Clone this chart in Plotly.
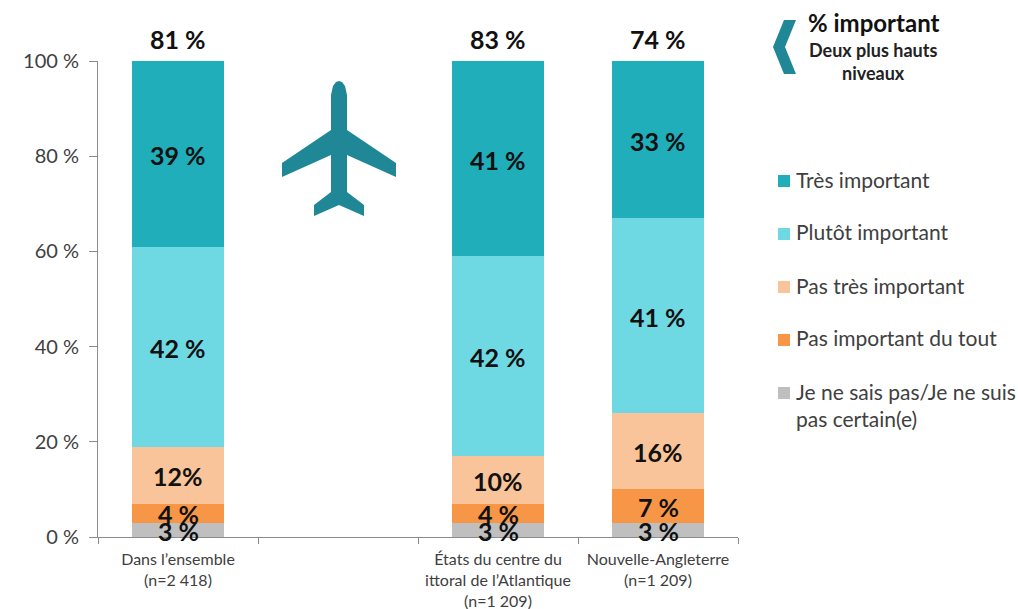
import plotly.graph_objects as go

W, H = 1018, 609
L, R, T, B = 98, 738, 61, 537

FONT = "Lato"
TEXT = "#111111"
GREY_TEXT = "#404040"

categories = [
    "Dans l’ensemble<br>(n=2 418)",
    " ",
    "États du centre du<br>ittoral de l’Atlantique<br>(n=1 209)",
    "Nouvelle-Angleterre<br>(n=1 209)",
]
totals = ["81 %", None, "83 %", "74 %"]

# bottom of the stack first
series_names = [
    "Je ne sais pas/Je ne suis<br>pas certain(e)",
    "Pas important du tout",
    "Pas très important",
    "Plutôt important",
    "Très important",
]
series_values = [
    [3, None, 3, 3],
    [4, None, 4, 7],
    [12, None, 10, 16],
    [42, None, 42, 41],
    [39, None, 41, 33],
]
series_labels = [
    ["3 %", None, "3 %", "3 %"],
    ["4 %", None, "4 %", "7 %"],
    ["12%", None, "10%", "16%"],
    ["42 %", None, "42 %", "41 %"],
    ["39 %", None, "41 %", "33 %"],
]
series_colors = ["#BFBFBF", "#F79646", "#F9C499", "#6FD9E3", "#20AEBB"]

y_ticks = [0, 20, 40, 60, 80, 100]
y_tick_labels = ["0 %", "20 %", "40 %", "60 %", "80 %", "100 %"]


def px(x):
    return (x - L) / (R - L)


def py(y):
    return (B - y) / (B - T)


def path(points):
    cmds = [f"{'M' if i == 0 else 'L'} {px(x):.5f} {py(y):.5f}" for i, (x, y) in enumerate(points)]
    return " ".join(cmds) + " Z"


fig = go.Figure()

for name, vals, color in zip(series_names, series_values, series_colors):
    fig.add_trace(
        go.Bar(
            x=categories,
            y=vals,
            name=name,
            marker=dict(color=color, line=dict(width=0)),
            showlegend=False,
        )
    )

shapes = []
annotations = []

# Value labels as annotations, or the next bar up paints over the small ones
running = [0, 0, 0, 0]
for vals, labels in zip(series_values, series_labels):
    for i, (cat, v, label) in enumerate(zip(categories, vals, labels)):
        if v is None:
            continue
        annotations.append(dict(x=cat, y=running[i] + v / 2, xref="x", yref="y", showarrow=False,
                                xanchor="center", yanchor="middle", yshift=-1,
                                text=f"<b>{label}</b>",
                                font=dict(family=FONT, size=25, color=TEXT)))
        running[i] += v

# Totals above the bars
for cat, total in zip(categories, totals):
    if total:
        annotations.append(dict(x=cat, y=100, xref="x", yref="y", showarrow=False,
                                xanchor="center", yanchor="bottom", yshift=5,
                                text=f"<b>{total}</b>",
                                font=dict(family=FONT, size=25, color=TEXT)))

# Plane icon
plane = [
    (339, 81), (336, 82), (333, 86), (331, 95), (331, 130), (282, 163), (282, 177), (331, 155),
    (331, 192), (314, 205), (314, 216), (339, 205), (364, 216), (364, 205), (347, 192),
    (347, 155), (396, 177), (396, 163), (347, 130), (347, 95), (345, 86), (342, 82),
]
shapes.append(dict(type="path", xref="paper", yref="paper", path=path(plane),
                   fillcolor="#1F8796", line=dict(width=0)))

# Chevron beside the "% important" note
chevron = [(784, 20), (796, 20), (785, 47), (796, 74), (784, 74), (773, 47)]
shapes.append(dict(type="path", xref="paper", yref="paper", path=path(chevron),
                   fillcolor="#1F8796", line=dict(width=0)))

annotations.append(dict(x=px(874), y=py(22), xref="paper", yref="paper", showarrow=False,
                        xanchor="center", yanchor="middle",
                        text="<b>% important</b>",
                        font=dict(family=FONT, size=24, color=TEXT)))
annotations.append(dict(x=px(873), y=py(61), xref="paper", yref="paper", showarrow=False,
                        xanchor="center", yanchor="middle",
                        text="<b>Deux plus hauts<br>niveaux</b>",
                        font=dict(family=FONT, size=18, color="#222222")))

# Legend drawn by hand: the swatches are spread over the right-hand column
legend_y = [181, 234, 287, 340, 393]
for name, color, y in zip(reversed(series_names), reversed(series_colors), legend_y):
    two_lines = "<br>" in name
    shapes.append(dict(type="rect", xref="paper", yref="paper",
                       x0=px(778), x1=px(790), y0=py(y - 6), y1=py(y + 6),
                       fillcolor=color, line=dict(width=0)))
    annotations.append(dict(x=px(795), y=py(378 if two_lines else y - 2), xref="paper", yref="paper",
                            showarrow=False, xanchor="left",
                            yanchor="top" if two_lines else "middle",
                            align="left", text=name, borderpad=0,
                            font=dict(family=FONT, size=21, color=GREY_TEXT)))

fig.update_layout(
    width=W,
    height=H,
    barmode="stack",
    bargap=0.425,
    margin=dict(l=L, r=W - R, t=T, b=H - B, pad=0, autoexpand=False),
    plot_bgcolor="white",
    paper_bgcolor="white",
    shapes=shapes,
    annotations=annotations,
    xaxis=dict(
        type="category",
        automargin=False,
        tickson="boundaries",
        ticks="outside",
        ticklen=6,
        tickcolor="#8C8C8C",
        showline=True,
        linecolor="#8C8C8C",
        showgrid=False,
        tickangle=0,
        ticklabelstandoff=8,
        tickfont=dict(family=FONT, size=16, color=GREY_TEXT),
    ),
    yaxis=dict(
        range=[0, 100],
        automargin=False,
        tickvals=y_ticks,
        ticktext=y_tick_labels,
        ticks="outside",
        ticklen=8,
        tickcolor="#8C8C8C",
        showline=True,
        linecolor="#8C8C8C",
        showgrid=False,
        zeroline=False,
        ticklabelstandoff=6,
        tickfont=dict(family=FONT, size=20, color=GREY_TEXT),
    ),
)

fig.write_html(
    "out.html",
    config=dict(displayModeBar=False),
    post_script="document.body.style.margin = '0';",
)
